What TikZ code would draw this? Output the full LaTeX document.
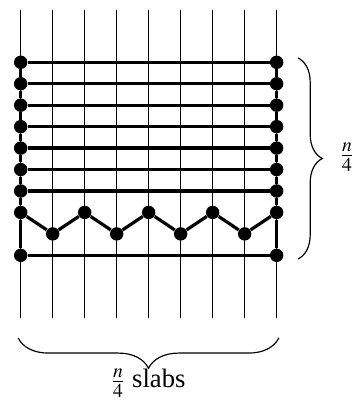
\documentclass[tikz,border=0pt]{standalone}
\usepackage{mathptmx}
\usepackage{fontspec}
\setmainfont{Liberation Serif}
\usetikzlibrary{decorations.pathreplacing}
\tikzset{
  wire/.style={line width=0.55pt},
  link/.style={line width=1.5pt},
  dot/.style={circle, fill, inner sep=0pt, minimum size=6.3pt},
  brace/.style={decorate, decoration={brace, amplitude=#1}, line width=0.55pt},
  lbl/.style={font=\fontsize{12.5}{15}\selectfont},
}
\begin{document}
\begin{tikzpicture}[x=0.528cm, y=0.354cm]
  \useasboundingbox (-0.647,2.904) rectangle (10.70,-16.07);

  % slab wires
  \foreach \i in {0,...,8} {
    \coordinate (top\i) at (\i,2.44);
    \coordinate (bot\i) at (\i,-11.92);
    \draw[wire] (top\i) -- (bot\i);
  }

  % end points of the rows
  \foreach \j in {0,...,7,9} {
    \node[dot] (L\j) at (0,-\j) {};
    \node[dot] (R\j) at (8,-\j) {};
  }

  % zigzag row
  \foreach \i in {1,...,7} {
    \pgfmathsetmacro{\zy}{isodd(\i) ? -8 : -7}
    \node[dot] (z\i) at (\i,\zy) {};
  }

  % straight rows
  \foreach \j in {0,...,6,9}
    \draw[link] (L\j) -- (R\j);
  \draw[link] (L7) -- (z1) -- (z2) -- (z3) -- (z4) -- (z5) -- (z6) -- (z7) -- (R7);

  % sides
  \draw[link] (L0) -- (L1) -- (L2) -- (L3) -- (L4) -- (L5) -- (L6) -- (L7) -- (L9);
  \draw[link] (R0) -- (R1) -- (R2) -- (R3) -- (R4) -- (R5) -- (R6) -- (R7) -- (R9);

  % braces
  \coordinate (rb1) at (8.67,0.2);
  \coordinate (rb2) at (8.67,-9.17);
  \draw[brace=0.4cm] (rb1) -- (rb2);
  \node[lbl] (rows) at (10.2,-4.41) {$\frac{n}{4}$};

  \coordinate (bb1) at (8.07,-12.85);
  \coordinate (bb2) at (-0.08,-12.85);
  \draw[brace=0.5cm] (bb1) -- (bb2);
  \node[lbl] (slabs) at (3.98,-14.95) {$\frac{n}{4}$ slabs};
\end{tikzpicture}
\end{document}
